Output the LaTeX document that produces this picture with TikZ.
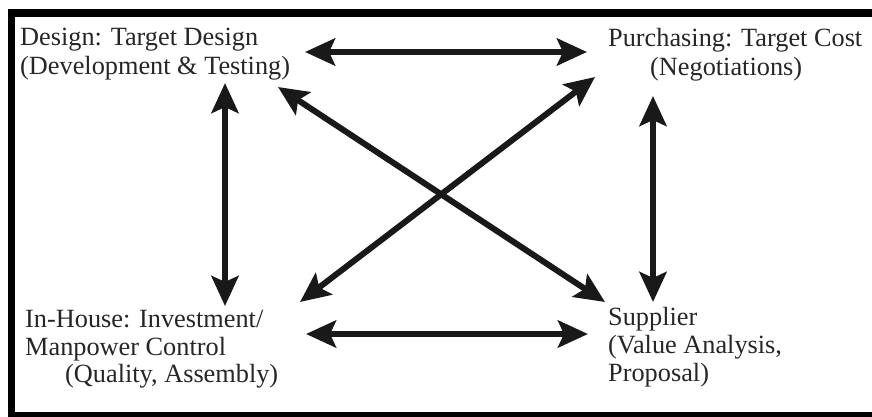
\documentclass[tikz,border=0pt]{standalone}
\usepackage{fontspec}
\setmainfont{Liberation Serif}
\usetikzlibrary{arrows.meta}
\begin{document}
\begin{tikzpicture}[x=1pt,y=-1pt,
  label/.style={anchor=base west,inner sep=0pt,text=black!85,
    font=\fontsize{26.3}{28}\selectfont},
  link/.style={line width=6pt,black!90,
    {Stealth[length=30pt,width=27pt,inset=6pt]}-{Stealth[length=30pt,width=27pt,inset=6pt]}}]
  \useasboundingbox (0,0) rectangle (872,416);
  \begin{scope}
    \clip (0,0) rectangle (872,416);
    % outer frame, open on the right
    \draw[line width=7.5pt] (11.5,13) rectangle (900,416);
  \end{scope}

  % corner labels
  \node[label] (des1) at (20,45) {Design: Target Design};
  \node[label] (des2) at (20,74) {(Development \& Testing)};
  \node[label] (pur1) at (608,46) {Purchasing: Target Cost};
  \node[label] (pur2) at (650,75) {(Negotiations)};
  \node[label] (inh1) at (25,327) {In-House: Investment/};
  \node[label] (inh2) at (25,355) {Manpower Control};
  \node[label] (inh3) at (65,382) {(Quality, Assembly)};
  \node[label] (sup1) at (608,325) {Supplier};
  \node[label] (sup2) at (608,353) {(Value Analysis,};
  \node[label] (sup3) at (608,381) {Proposal)};

  % arrow end points
  \coordinate (dR) at (305,52);
  \coordinate (pL) at (587,52);
  \coordinate (dD) at (225,83);
  \coordinate (iU) at (225,306);
  \coordinate (pD) at (653,96);
  \coordinate (sU) at (653,302);
  \coordinate (iR) at (306,334);
  \coordinate (sL) at (588,334);
  \coordinate (dX) at (278,87);
  \coordinate (sX) at (605,302);
  \coordinate (iX) at (300,302);
  \coordinate (pX) at (595,77);

  \draw[link] (dR) -- (pL);
  \draw[link] (dD) -- (iU);
  \draw[link] (pD) -- (sU);
  \draw[link] (iR) -- (sL);
  \draw[link] (dX) -- (sX);
  \draw[link] (iX) -- (pX);
\end{tikzpicture}
\end{document}
